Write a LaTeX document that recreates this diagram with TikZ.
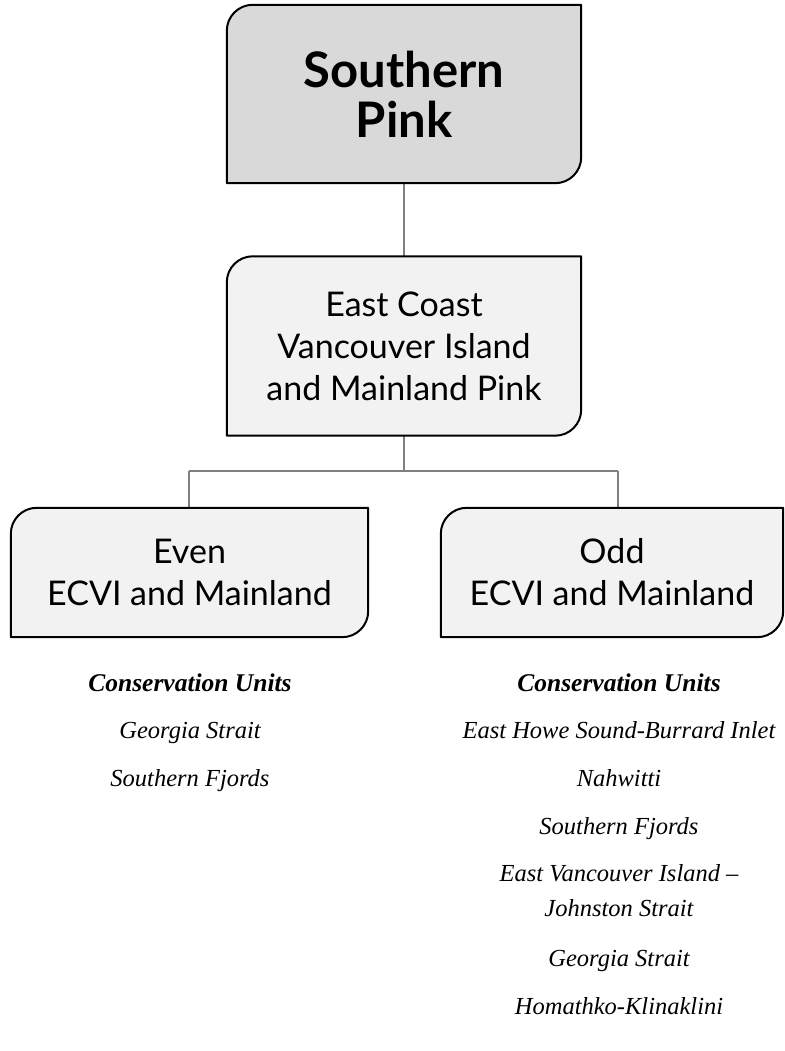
\documentclass[tikz,border=0pt]{standalone}
\usepackage{fontspec}
\newfontfamily\boxfont{Lato}
\newfontfamily\cufont{Liberation Serif}
\usetikzlibrary{backgrounds}
\definecolor{topfill}{HTML}{D9D9D9}
\definecolor{subfill}{HTML}{F2F2F2}
\definecolor{connc}{HTML}{808080}
\def\boxr{26pt}
\newcommand{\cutbox}[2]{%
  \filldraw[fill=#2, draw=black, line width=2pt, line join=round]
    ([yshift=-\boxr]#1.north west) arc[start angle=180,end angle=90,radius=\boxr]
    -- (#1.north east) -- ([yshift=\boxr]#1.south east)
    arc[start angle=0,end angle=-90,radius=\boxr]
    -- (#1.south west) -- cycle;}
\tikzset{
  boxnode/.style={inner sep=0pt, align=center, text=black},
  conn/.style={draw=connc, line width=2pt},
  cuhead/.style={anchor=base, font=\cufont\itshape\bfseries\fontsize{25.5}{28}\selectfont},
  cuitem/.style={anchor=base, font=\cufont\itshape\fontsize{24.5}{28}\selectfont},
}
\begin{document}
\begin{tikzpicture}[x=1pt,y=1pt]
\useasboundingbox (0,0) rectangle (784,1051);
\node[boxnode, minimum width=354pt, minimum height=178pt,
  font=\boxfont\bfseries\fontsize{49}{50}\selectfont] (top) at (404,957) {Southern\\Pink};
\node[boxnode, minimum width=354pt, minimum height=179pt,
  font=\boxfont\fontsize{34}{42}\selectfont] (mid) at (404,705) {East Coast\\Vancouver Island\\and Mainland Pink};
\node[boxnode, minimum width=357pt, minimum height=129pt,
  font=\boxfont\fontsize{34}{42}\selectfont] (even) at (189.5,478.5) {Even\\ECVI and Mainland};
\node[boxnode, minimum width=342pt, minimum height=129pt,
  font=\boxfont\fontsize{34}{42}\selectfont] (odd) at (612,478.5) {Odd\\ECVI and Mainland};
\coordinate (j) at (404,580);
\coordinate (jl) at (189,580);
\coordinate (jr) at (618,580);
\begin{pgfonlayer}{background}
  \draw[conn] (top.south) -- (mid.north);
  \draw[conn] (mid.south) -- (j);
  \draw[conn] (jl) -- (jr);
  \draw[conn] (jl) -- (jl |- even.north);
  \draw[conn] (jr) -- (jr |- odd.north);
  \cutbox{top}{topfill}
  \cutbox{mid}{subfill}
  \cutbox{even}{subfill}
  \cutbox{odd}{subfill}
\end{pgfonlayer}
% left list
\node[cuhead] (lh) at (190,359) {Conservation Units};
\node[cuitem] (l1) at (190,312) {Georgia Strait};
\node[cuitem] (l2) at (190,264) {Southern Fjords};
% right list
\node[cuhead] (rh) at (619,359) {Conservation Units};
\node[cuitem] (r1) at (619,312) {East Howe Sound-Burrard Inlet};
\node[cuitem] (r2) at (619,264) {Nahwitti};
\node[cuitem] (r3) at (619,216) {Southern Fjords};
\node[cuitem] (r4) at (619,169) {East Vancouver Island –};
\node[cuitem] (r5) at (619,134) {Johnston Strait};
\node[cuitem] (r6) at (619,84) {Georgia Strait};
\node[cuitem] (r7) at (619,36) {Homathko-Klinaklini};
\end{tikzpicture}
\end{document}
